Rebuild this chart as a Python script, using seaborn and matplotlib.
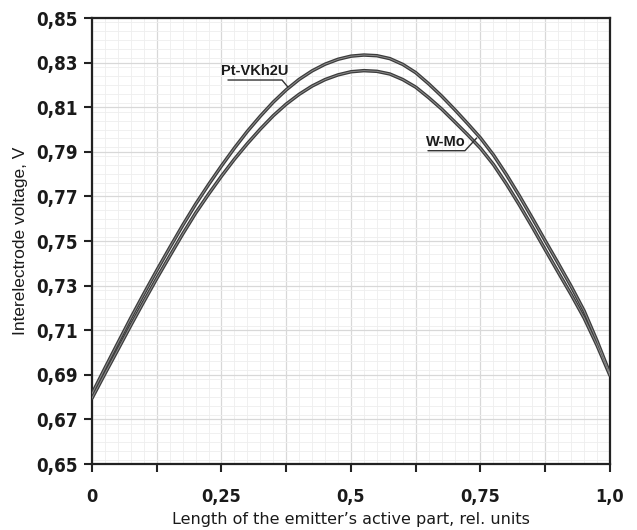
import numpy as np
import pandas as pd
import seaborn as sns
import matplotlib.pyplot as plt
from matplotlib import font_manager
from matplotlib.ticker import MultipleLocator, FixedLocator

# length of the emitter's active part, rel. units
x_pos = [0.000, 0.025, 0.050, 0.075, 0.100, 0.125, 0.150, 0.175, 0.200, 0.225,
         0.250, 0.275, 0.300, 0.325, 0.350, 0.375, 0.400, 0.425, 0.450, 0.475,
         0.500, 0.525, 0.550, 0.575, 0.600, 0.625, 0.650, 0.675, 0.700, 0.725,
         0.750, 0.775, 0.800, 0.825, 0.850, 0.875, 0.900, 0.925, 0.950, 0.975, 1.000]

# interelectrode voltage, V
v_pt = [0.6815, 0.6930, 0.7043, 0.7155, 0.7263, 0.7368, 0.7470, 0.7570, 0.7665, 0.7753,
        0.7837, 0.7917, 0.7992, 0.8060, 0.8123, 0.8178, 0.8225, 0.8263, 0.8293, 0.8315,
        0.8329, 0.8334, 0.8331, 0.8318, 0.8292, 0.8255, 0.8205, 0.8150, 0.8090, 0.8027,
        0.7962, 0.7886, 0.7798, 0.7703, 0.7603, 0.7501, 0.7400, 0.7297, 0.7187, 0.7052, 0.6905]
v_wmo = [0.6795, 0.6905, 0.7013, 0.7122, 0.7228, 0.7332, 0.7432, 0.7531, 0.7625, 0.7710,
         0.7791, 0.7867, 0.7937, 0.8002, 0.8062, 0.8114, 0.8158, 0.8195, 0.8224, 0.8245,
         0.8259, 0.8264, 0.8261, 0.8249, 0.8224, 0.8190, 0.8143, 0.8092, 0.8035, 0.7977,
         0.7916, 0.7843, 0.7756, 0.7662, 0.7563, 0.7461, 0.7360, 0.7260, 0.7155, 0.7032, 0.6897]

series_names = ['Pt-VKh2U', 'W-Mo']
y_ticks = [0.65, 0.67, 0.69, 0.71, 0.73, 0.75, 0.77, 0.79, 0.81, 0.83, 0.85]
x_ticks = [0, 0.125, 0.25, 0.375, 0.5, 0.625, 0.75, 0.875, 1.0]
x_labels = ['0', '', '0,25', '', '0,5', '', '0,75', '', '1,0']

df = pd.DataFrame({
    'x': x_pos * 2,
    'v': v_pt + v_wmo,
    'alloy': [series_names[0]] * len(x_pos) + [series_names[1]] * len(x_pos),
})

sns.set_style('white')
plt.rcParams['font.family'] = ['Liberation Sans', 'DejaVu Sans']

# narrow bold face for the tick numbers, whichever is there
fonts = font_manager.fontManager.ttflist
names = {f.name for f in fonts}
if 'Liberation Sans Narrow' in names:
    tick_font = dict(family='Liberation Sans Narrow', stretch='normal', ys=14.5, xs=13.5)
elif any(f.name == 'DejaVu Sans' and f.stretch == 'condensed' for f in fonts):
    tick_font = dict(family='DejaVu Sans', stretch='condensed', ys=13.5, xs=13)
else:
    tick_font = dict(family='Liberation Sans', stretch='normal', ys=12.5, xs=12)

fig = plt.figure(figsize=(6.37, 5.30), dpi=100)
ax = fig.add_axes([0.1444, 0.1245, 0.8132, 0.8415])

# dark outline + lighter core, like the scanned original
sns.lineplot(data=df, x='x', y='v', hue='alloy', palette=['#3c3c3c', '#3c3c3c'],
             linewidth=2.5, legend=False, ax=ax, zorder=3)
sns.lineplot(data=df, x='x', y='v', hue='alloy', palette=['#8c8c8c', '#8c8c8c'],
             linewidth=0.7, legend=False, ax=ax, zorder=4)

ax.set_xlim(0, 1.0)
ax.set_ylim(0.65, 0.85)

ax.xaxis.set_major_locator(FixedLocator(x_ticks))
ax.set_xticklabels(x_labels)
ax.yaxis.set_major_locator(FixedLocator(y_ticks))
ax.set_yticklabels([f'{t:.2f}'.replace('.', ',') for t in y_ticks])
ax.xaxis.set_minor_locator(MultipleLocator(0.025))
ax.yaxis.set_minor_locator(MultipleLocator(0.004))

ax.grid(which='major', color='#d8d8d8', linewidth=0.9, zorder=0)
ax.grid(which='minor', color='#eeeeee', linewidth=0.6, zorder=0)
ax.set_axisbelow(True)

for s in ax.spines.values():
    s.set_color('#222222')
    s.set_linewidth(1.6)

ax.tick_params(which='major', direction='out', length=6, width=1.5, color='#222222',
               pad=4, bottom=True, left=True)
ax.tick_params(which='minor', length=0)
ax.tick_params(axis='x', pad=11)
for lab in ax.get_yticklabels():
    lab.set_family(tick_font['family'])
    lab.set_stretch(tick_font['stretch'])
    lab.set_fontweight('bold')
    lab.set_fontsize(tick_font['ys'])
    lab.set_color('#1a1a1a')
for lab in ax.get_xticklabels():
    lab.set_family(tick_font['family'])
    lab.set_stretch(tick_font['stretch'])
    lab.set_fontweight('bold')
    lab.set_fontsize(tick_font['xs'])
    lab.set_color('#1a1a1a')

ax.set_ylabel('Interelectrode voltage, V', fontsize=12.5, color='#1a1a1a')
ax.yaxis.set_label_coords(-0.124, 0.5)
ax.set_xlabel('Length of the emitter\u2019s active part, rel. units', fontsize=11.5,
              family=['DejaVu Sans'], color='#1a1a1a')
ax.xaxis.set_label_coords(0.5, -0.108)

# curve labels with underline and leader line
ax.text(0.3147, 0.8262, 'Pt-VKh2U', ha='center', va='center', fontsize=10.5,
        fontweight='bold', color='#1a1a1a', zorder=5)
ax.plot([0.2625, 0.3668, 0.378], [0.8222, 0.8222, 0.8191], color='#333333', lw=1.0, zorder=5)
ax.text(0.683, 0.7945, 'W-Mo', ha='center', va='center', fontsize=10.5,
        fontweight='bold', color='#1a1a1a', zorder=5)
ax.plot([0.6486, 0.720, 0.7427], [0.7905, 0.7905, 0.7962], color='#333333', lw=1.0, zorder=5)

fig.savefig('out.png', dpi=100)
